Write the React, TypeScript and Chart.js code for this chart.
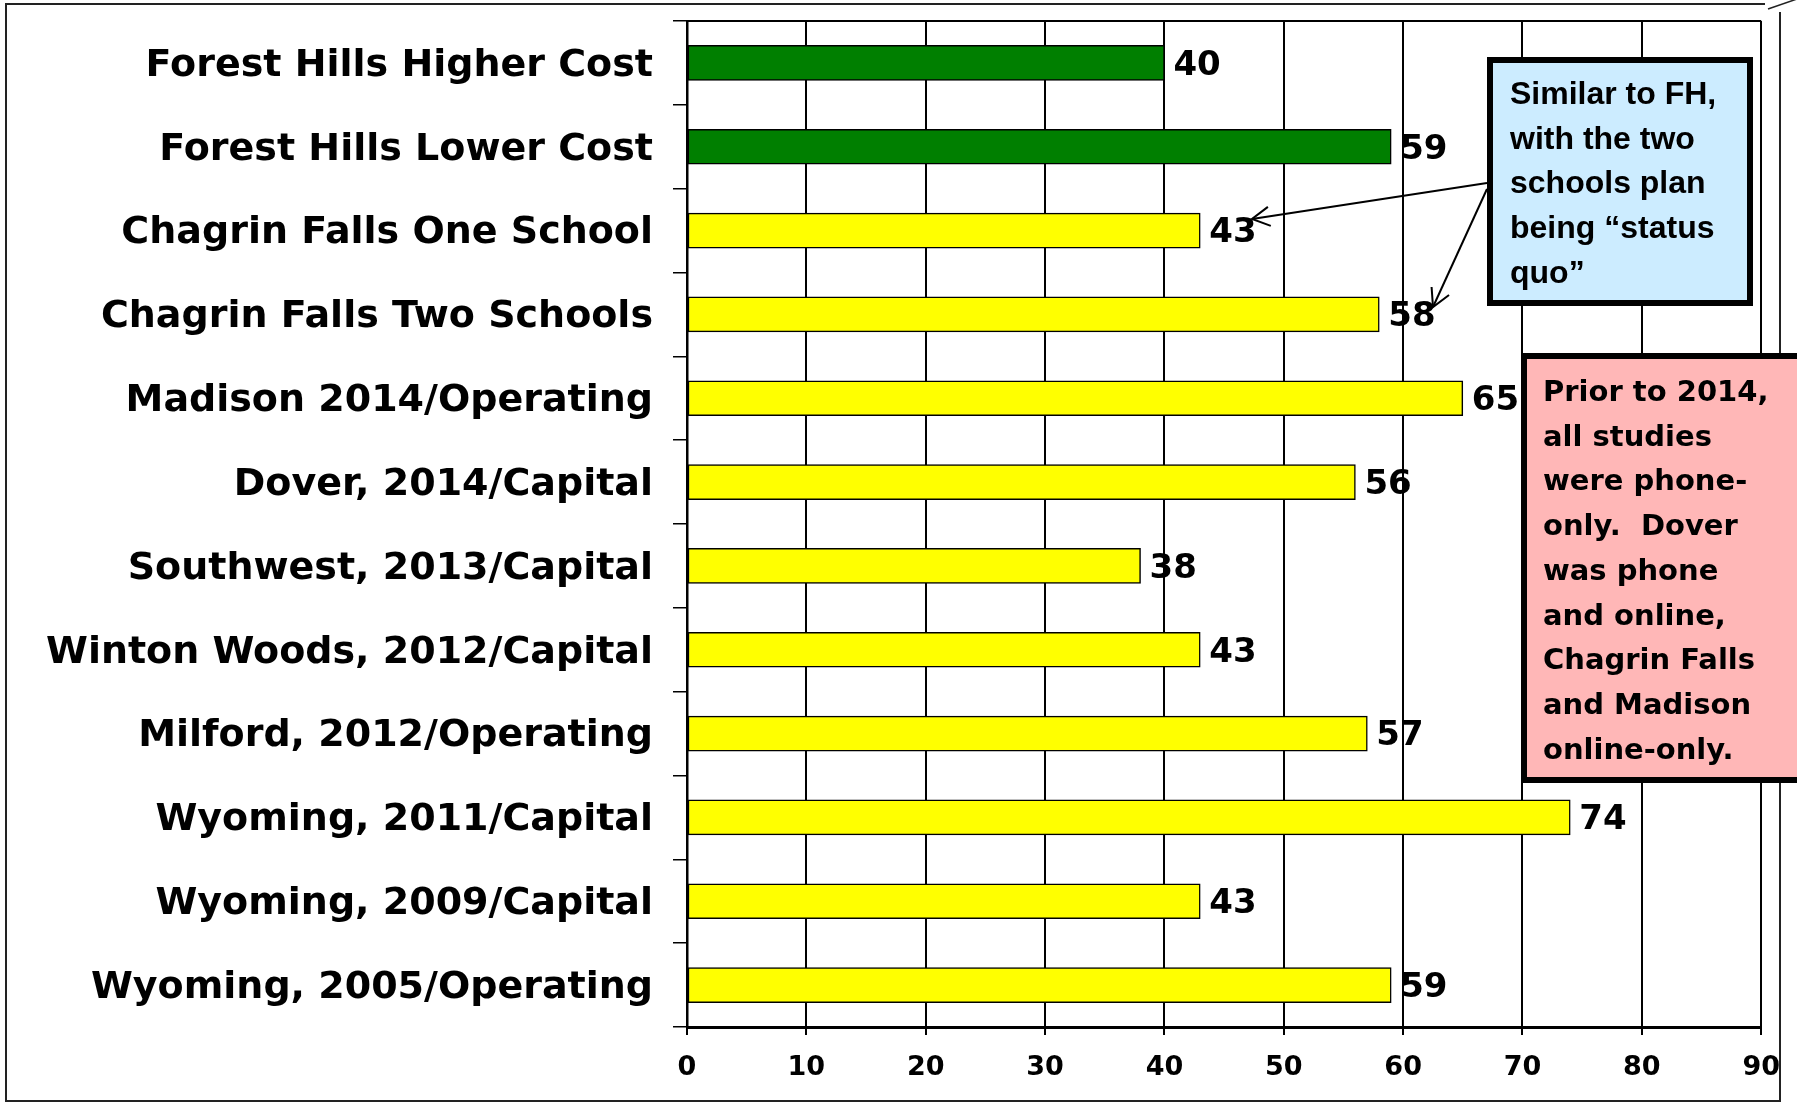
import React, { useEffect, useRef } from "react";
import { Chart, registerables } from "chart.js";

Chart.register(...registerables);

const categories = [
  "Forest Hills Higher Cost",
  "Forest Hills Lower Cost",
  "Chagrin Falls One School",
  "Chagrin Falls Two Schools",
  "Madison 2014/Operating",
  "Dover, 2014/Capital",
  "Southwest, 2013/Capital",
  "Winton Woods, 2012/Capital",
  "Milford, 2012/Operating",
  "Wyoming, 2011/Capital",
  "Wyoming, 2009/Capital",
  "Wyoming, 2005/Operating",
];
const values = [40, 59, 43, 58, 65, 56, 38, 43, 57, 74, 43, 59];
const barColors = [
  "#007F00", "#007F00",
  "#FFFF00", "#FFFF00", "#FFFF00", "#FFFF00", "#FFFF00",
  "#FFFF00", "#FFFF00", "#FFFF00", "#FFFF00", "#FFFF00",
];
const xMin = 0;
const xMax = 90;
const xStep = 10;

const blueNoteLines = [
  "Similar to FH,",
  "with the two",
  "schools plan",
  "being \u201Cstatus",
  "quo\u201D",
];
const pinkNoteLines = [
  "Prior to 2014,",
  "all studies",
  "were phone-",
  "only.  Dover",
  "was phone",
  "and online,",
  "Chagrin Falls",
  "and Madison",
  "online-only.",
];

const LABEL_FONT = "DejaVu Sans";

function arrow(ctx: CanvasRenderingContext2D, x1: number, y1: number, x2: number, y2: number) {
  ctx.save();
  ctx.strokeStyle = "#000";
  ctx.lineWidth = 2;
  ctx.beginPath();
  ctx.moveTo(x1, y1);
  ctx.lineTo(x2, y2);
  ctx.stroke();
  const a = Math.atan2(y2 - y1, x2 - x1);
  const L = 20;
  ctx.beginPath();
  ctx.moveTo(x2 - L * Math.cos(a - 0.5), y2 - L * Math.sin(a - 0.5));
  ctx.lineTo(x2, y2);
  ctx.lineTo(x2 - L * Math.cos(a + 0.5), y2 - L * Math.sin(a + 0.5));
  ctx.stroke();
  ctx.restore();
}

function note(
  ctx: CanvasRenderingContext2D,
  x: number, y: number, w: number, h: number,
  fill: string, lines: string[], font: string,
  tx: number, ty: number, lh: number
) {
  ctx.save();
  ctx.fillStyle = fill;
  ctx.fillRect(x, y, w, h);
  ctx.strokeStyle = "#000";
  ctx.lineWidth = 6;
  ctx.strokeRect(x, y, w, h);
  ctx.fillStyle = "#000";
  ctx.font = font;
  ctx.textAlign = "left";
  ctx.textBaseline = "alphabetic";
  lines.forEach((l, i) => ctx.fillText(l, tx, ty + i * lh));
  ctx.restore();
}

const decorPlugin = {
  id: "decor",
  beforeDraw(chart: any) {
    const ctx = chart.ctx as CanvasRenderingContext2D;
    ctx.save();
    ctx.fillStyle = "#fff";
    ctx.fillRect(0, 0, chart.width, chart.height);
    ctx.restore();
  },
  afterDraw(chart: any) {
    const ctx = chart.ctx as CanvasRenderingContext2D;
    const ca = chart.chartArea;
    // plot top border
    ctx.save();
    ctx.strokeStyle = "#000";
    ctx.lineWidth = 2;
    ctx.beginPath();
    ctx.moveTo(ca.left, ca.top);
    ctx.lineTo(ca.right, ca.top);
    ctx.stroke();
    ctx.restore();

    // value labels
    const meta = chart.getDatasetMeta(0);
    ctx.save();
    ctx.fillStyle = "#000";
    ctx.font = `bold 34px "${LABEL_FONT}"`;
    ctx.textAlign = "left";
    ctx.textBaseline = "middle";
    meta.data.forEach((el: any, i: number) => {
      ctx.fillText(String(values[i]), el.x + 9, el.y + 3);
    });
    ctx.restore();

    // outer frame
    ctx.save();
    ctx.strokeStyle = "#222";
    ctx.lineWidth = 2;
    ctx.beginPath();
    ctx.moveTo(1765, 4);
    ctx.lineTo(6, 4);
    ctx.lineTo(6, 1101);
    ctx.lineTo(1780, 1101);
    ctx.lineTo(1780, 12);
    ctx.stroke();
    ctx.lineWidth = 1.5;
    ctx.beginPath();
    ctx.moveTo(1768, 9);
    ctx.lineTo(1797, -1);
    ctx.stroke();
    ctx.restore();

    // arrows
    arrow(ctx, 1487, 183, 1252, 219);
    arrow(ctx, 1487, 189, 1433, 307);

    // notes
    note(ctx, 1490, 60, 260, 243, "#CCECFF", blueNoteLines,
      'bold 32px "Liberation Sans", Arial, sans-serif', 1510, 104, 44.7);
    note(ctx, 1524, 356, 320, 424, "#FFB7B7", pinkNoteLines,
      `bold 29px "${LABEL_FONT}"`, 1543, 401, 44.7);
  },
};

export default function App() {
  const ref = useRef<HTMLCanvasElement | null>(null);
  useEffect(() => {
    if (!ref.current) return;
    const chart = new Chart(ref.current, {
      type: "bar",
      data: {
        labels: categories,
        datasets: [
          {
            data: values,
            backgroundColor: barColors,
            borderColor: "#000",
            borderWidth: 1.5,
            borderSkipped: false,
            barThickness: 35,
          },
        ],
      },
      options: {
        indexAxis: "y",
        responsive: false,
        animation: false,
        devicePixelRatio: 1,
        layout: { padding: { left: 0, top: 21, right: 35, bottom: 0 } },
        plugins: { legend: { display: false }, tooltip: { enabled: false } },
        scales: {
          x: {
            min: xMin,
            max: xMax,
            ticks: {
              stepSize: xStep,
              color: "#000",
              padding: 17,
              font: { family: LABEL_FONT, weight: "bold", size: 27 },
            },
            grid: {
              color: "#000",
              lineWidth: 2,
              drawTicks: true,
              tickLength: 8,
            },
            border: { display: true, color: "#000", width: 3 },
            afterFit: (s: any) => {
              s.height = 1104 - 1027;
            },
          },
          y: {
            ticks: {
              color: "#000",
              padding: 20,
              labelOffset: 3,
              font: { family: LABEL_FONT, weight: "bold", size: 38 },
            },
            grid: {
              drawOnChartArea: false,
              drawTicks: true,
              tickLength: 14,
              color: "#000",
              lineWidth: 1.5,
              offset: true,
            },
            border: { display: true, color: "#000", width: 2.5 },
            afterFit: (s: any) => {
              s.width = 687;
              s.paddingTop = 0;
              s.paddingBottom = 0;
            },
          },
        },
      },
      plugins: [decorPlugin],
    } as any);
    return () => chart.destroy();
  }, []);
  return (
    <div style={{ position: "absolute", left: 0, top: 0, width: 1797, height: 1104, background: "#fff" }}>
      <canvas ref={ref} width={1797} height={1104} style={{ display: "block", width: 1797, height: 1104 }} />
    </div>
  );
}
